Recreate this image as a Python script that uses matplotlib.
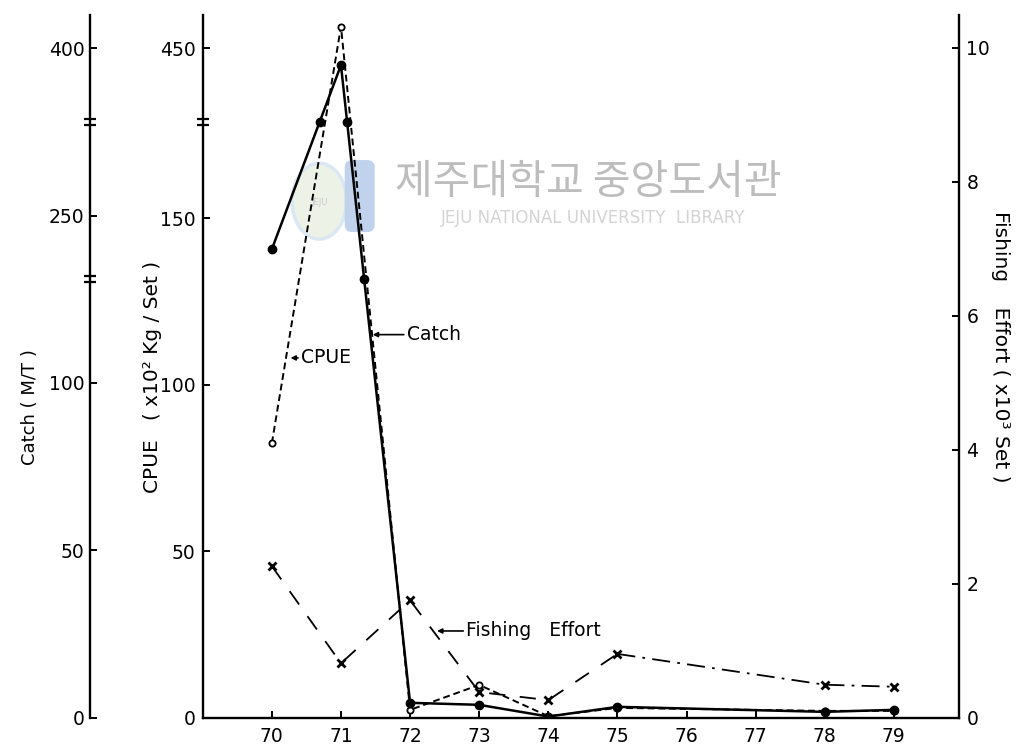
import numpy as np
import matplotlib
matplotlib.use("Agg")
import matplotlib.pyplot as plt
from matplotlib.path import Path
from matplotlib.patches import FancyBboxPatch, Ellipse

# Yearly series (19xx)
years = [70, 71, 72, 73, 74, 75, 78, 79]
catch = [240, 395, 4.4, 3.8, 0.3, 3.2, 1.7, 2.3]        # M/T
cpue = [82.4, 456.5, 2.3, 9.8, 0.4, 2.9, 2.0, 2.0]      # x10^2 Kg/Set
effort = [2.26, 0.81, 1.75, 0.38, 0.26, 0.95, 0.49, 0.46]  # x10^3 Set

# Broken axis gaps (value ranges skipped on each axis)
cpue_gaps = [(179, 428)]
catch_gaps = [(131, 231), (278, 378)]

year_ticks = list(range(70, 80))
cpue_ticks = [0, 50, 100, 150, 450]
catch_ticks = [0, 50, 100, 250, 400]
effort_ticks = [0, 2, 4, 6, 8, 10]


def broken_scale(gaps):
    def fwd(v):
        v = np.asarray(v, dtype=float)
        h = v.copy()
        for lo, hi in gaps:
            h = h - np.clip(v - lo, 0, hi - lo)
        return h

    def inv(h):
        h = np.asarray(h, dtype=float)
        v = h.copy()
        cut = 0.0
        for lo, hi in gaps:
            v = v + np.where(h > lo - cut, hi - lo, 0.0)
            cut += hi - lo
        return v

    return fwd, inv


def gap_crossings(xs, ys, gaps):
    # points where a series crosses an axis break
    fwd, _ = broken_scale(gaps)
    h = fwd(ys)
    px, py = [], []
    cut = 0.0
    for lo, hi in gaps:
        level = lo - cut
        cut += hi - lo
        for i in range(len(xs) - 1):
            if (h[i] - level) * (h[i + 1] - level) < 0:
                t = (level - h[i]) / (h[i + 1] - h[i])
                px.append(xs[i] + t * (xs[i + 1] - xs[i]))
                py.append(lo)
    return px, py


# two short bars across a spine
brk = Path([(-1, -0.45), (1, -0.45), (-1, 0.45), (1, 0.45)],
           [Path.MOVETO, Path.LINETO, Path.MOVETO, Path.LINETO])

plt.rcParams["font.family"] = ["DejaVu Sans"]
fig = plt.figure(figsize=(10.24, 7.49), dpi=100)
ax = fig.add_axes([0.198, 0.042, 0.739, 0.938])
ax_c = ax.twinx()
ax_e = ax.twinx()

# CPUE axis (inner left)
ax.set_yscale("function", functions=broken_scale(cpue_gaps))
ax.set_ylim(0, 460)
ax.set_xlim(69, 79.95)
ax.set_xticks(year_ticks)
ax.set_xticklabels([str(y) for y in year_ticks])
ax.set_yticks(cpue_ticks)
ax.set_yticklabels([str(t) for t in cpue_ticks])
ax.yaxis.set_minor_locator(matplotlib.ticker.NullLocator())
for s in ["top", "right"]:
    ax.spines[s].set_visible(False)

# Catch axis (outer left)
ax_c.set_yscale("function", functions=broken_scale(catch_gaps))
ax_c.set_ylim(0, 410)
ax_c.spines["left"].set_position(("axes", -0.149))
ax_c.spines["left"].set_visible(True)
for s in ["top", "right", "bottom"]:
    ax_c.spines[s].set_visible(False)
ax_c.yaxis.set_ticks_position("left")
ax_c.set_yticks(catch_ticks)
ax_c.set_yticklabels([str(t) for t in catch_ticks])
ax_c.yaxis.set_minor_locator(matplotlib.ticker.NullLocator())

# Fishing effort axis (right)
ax_e.set_ylim(0, 10.49)
ax_e.set_yticks(effort_ticks)
ax_e.set_yticklabels([str(t) for t in effort_ticks])
for s in ["top", "left", "bottom"]:
    ax_e.spines[s].set_visible(False)

for a in (ax, ax_c, ax_e):
    for s in a.spines.values():
        s.set_linewidth(1.7)
    a.tick_params(direction="in", length=5, width=1.4, labelsize=13.5,
                  colors="black")
ax.tick_params(axis="y", pad=5)
ax.tick_params(axis="x", pad=7)
ax_c.tick_params(axis="y", pad=4)
ax_e.tick_params(axis="y", pad=5)

# break marks on the spines
for lo, hi in cpue_gaps:
    ax.plot([0], [lo], transform=ax.get_yaxis_transform(), marker=brk,
            ms=9, mew=1.6, color="black", clip_on=False, zorder=5)
for lo, hi in catch_gaps:
    ax_c.plot([-0.149], [lo], transform=ax_c.get_yaxis_transform(),
              marker=brk, ms=9, mew=1.6, color="black", clip_on=False, zorder=5)

# library watermark
ax.text(0.51, 0.761, "제주대학교 중앙도서관", transform=ax.transAxes,
        fontsize=29.5, color="#bdbdbd", family=["Noto Sans CJK KR", "DejaVu Sans"],
        ha="center", va="center", zorder=0.5)
ax.text(0.516, 0.711, "JEJU NATIONAL UNIVERSITY  LIBRARY", transform=ax.transAxes,
        fontsize=12, color="#d4d4d4", ha="center", va="center", zorder=0.5)
ax.add_patch(Ellipse((0.154, 0.735), 0.072, 0.108, transform=ax.transAxes,
                     facecolor="#edf2e6", edgecolor="#dbe8f3", lw=2.5, zorder=0.4))
ax.add_patch(FancyBboxPatch((0.1876, 0.691), 0.0396, 0.1025,
                            boxstyle="round,pad=0,rounding_size=0.01",
                            transform=ax.transAxes, facecolor="#c0d2ec",
                            edgecolor="none", zorder=0.4))
ax.text(0.154, 0.733, "JEJU", transform=ax.transAxes, fontsize=6,
        color="#c8c8c8", ha="center", va="center", zorder=0.45)

# CPUE: dashed with open circles
ax.plot(years, cpue, color="black", lw=1.4, ls=(0, (3.5, 2)), zorder=3)
ax.plot(years, cpue, ls="none", marker="o", ms=4.5, mfc="white",
        mec="black", mew=1.3, zorder=4)

# Catch: solid with filled circles
ax_c.plot(years, catch, color="black", lw=1.8, marker="o", ms=6, zorder=3)
bx, by = gap_crossings(years, catch, catch_gaps)
ax_c.plot(bx, by, ls="none", marker="o", ms=6, color="black", zorder=4)

# Fishing effort: long dashes, then dash-dot
ax_e.plot(years[:6], effort[:6], color="black", lw=1.3, ls=(0, (9, 8)))
ax_e.plot(years[5:], effort[5:], color="black", lw=1.3, ls=(0, (10, 4, 1.5, 4)))
ax_e.plot(years, effort, ls="none", marker="x", ms=6, mew=2, color="black")

# labels on the lines
arrow = dict(arrowstyle="-|>", lw=1.2, color="black", shrinkA=0, shrinkB=0,
             mutation_scale=7)
ax.annotate("CPUE", xy=(70.27, 108), xytext=(70.42, 108), fontsize=13.5,
            va="center", arrowprops=arrow)
ax.annotate("Catch", xy=(71.46, 115), xytext=(71.95, 115), fontsize=13.5,
            va="center", arrowprops=arrow)
ax.annotate("Fishing   Effort", xy=(72.39, 26), xytext=(72.81, 26), fontsize=13.5,
            va="center", arrowprops=arrow)

# axis titles
fig.text(0.029, 1 - 407 / 749, "Catch ( M/T )", rotation=90, fontsize=13,
         ha="center", va="center")
fig.text(0.149, 1 - 377 / 749, "CPUE   ( x10² Kg / Set )", rotation=90,
         fontsize=14.5, ha="center", va="center")
fig.text(0.977, 1 - 347 / 749, "Fishing    Effort ( x10³ Set )", rotation=270,
         fontsize=14.5, ha="center", va="center")

fig.savefig("out.png", dpi=100)
